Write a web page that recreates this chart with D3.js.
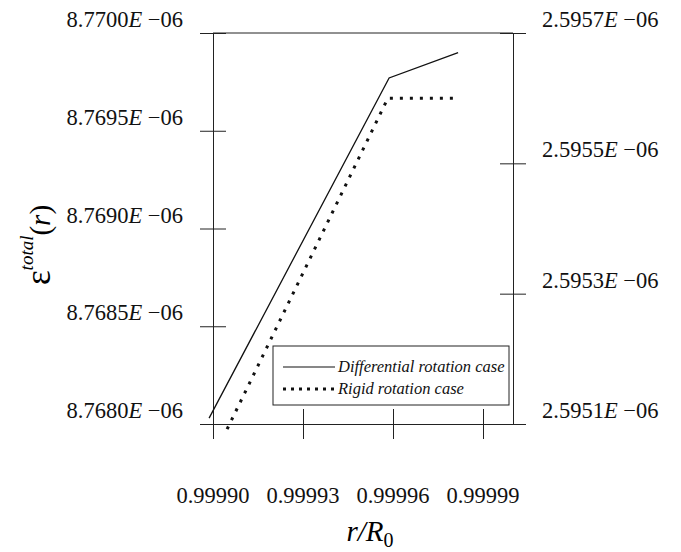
<!DOCTYPE html>
<meta charset="utf-8">
<style>
body { margin: 0; background: #fff; }
svg { font-family: "Liberation Serif", "Times New Roman", serif; }
.axis path { stroke: #222; stroke-width: 1; }
.axis line { stroke: #222; stroke-width: 1; }
.frame { stroke: #222; stroke-width: 1; }
.tick-label { font-size: 22.5px; fill: #111; }
.legend-text { font-size: 16.5px; font-style: italic; fill: #111; }
</style>
<body>
<script src="https://d3js.org/d3.v7.min.js"></script>
<script>
// values
var diffR = [0.9998987, 0.9999587, 0.9999817];
var diffE = [8.76803e-6, 8.76977e-6, 8.76990e-6];
var rigidR = [0.9999047, 0.9999583, 0.9999817];
var rigidE = [2.595092e-6, 2.595600e-6, 2.595600e-6];

var xTicks = [0.99990, 0.99993, 0.99996, 0.99999];
var leftTicks = [8.7680e-6, 8.7685e-6, 8.7690e-6, 8.7695e-6, 8.7700e-6];
var rightTicks = [2.5951e-6, 2.5953e-6, 2.5955e-6, 2.5957e-6];

var legendLabels = ["Differential rotation case", "Rigid rotation case"];

var width = 681, height = 552;
var plot = {left: 213, right: 513, top: 33, bottom: 424};

var svg = d3.select("body").append("svg")
  .attr("width", width)
  .attr("height", height);

var x = d3.scaleLinear().domain([0.99990, 1.00000]).range([plot.left, plot.right]);
var yL = d3.scaleLinear().domain([8.7680e-6, 8.7700e-6]).range([plot.bottom, plot.top]);
var yR = d3.scaleLinear().domain([2.5951e-6, 2.5957e-6]).range([plot.bottom, plot.top]);

// frame top line
svg.append("line")
  .attr("class", "frame")
  .attr("x1", plot.left).attr("x2", plot.right)
  .attr("y1", plot.top).attr("y2", plot.top);

// axes, ticks cross the axis line
var gx = svg.append("g")
  .attr("class", "axis")
  .attr("transform", "translate(0," + plot.bottom + ")")
  .call(d3.axisBottom(x).tickValues(xTicks).tickSizeOuter(0).tickFormat(""));
gx.selectAll(".tick line").attr("y1", -15).attr("y2", 15);

var gl = svg.append("g")
  .attr("class", "axis")
  .attr("transform", "translate(" + plot.left + ",0)")
  .call(d3.axisLeft(yL).tickValues(leftTicks).tickSizeOuter(0).tickFormat(""));
gl.selectAll(".tick line").attr("x1", -13).attr("x2", 13);

var gr = svg.append("g")
  .attr("class", "axis")
  .attr("transform", "translate(" + plot.right + ",0)")
  .call(d3.axisRight(yR).tickValues(rightTicks).tickSizeOuter(0).tickFormat(""));
gr.selectAll(".tick line").attr("x1", -13).attr("x2", 13);

// tick labels like 8.7700E -06
function sciLabel(sel, v) {
  sel.append("tspan").text(d3.format(".4f")(v * 1e6));
  sel.append("tspan").attr("font-style", "italic").text("E");
  sel.append("tspan").text(" \u221206");
}

svg.selectAll(".left-label")
  .data(leftTicks).enter()
  .append("text")
  .attr("class", "tick-label")
  .attr("text-anchor", "end")
  .attr("x", plot.left - 30)
  .attr("y", function(d) { return yL(d) - 6; })
  .each(function(d) { sciLabel(d3.select(this), d); });

svg.selectAll(".right-label")
  .data(rightTicks).enter()
  .append("text")
  .attr("class", "tick-label")
  .attr("x", plot.right + 29)
  .attr("y", function(d) { return yR(d) - 6; })
  .each(function(d) { sciLabel(d3.select(this), d); });

svg.selectAll(".x-label")
  .data(xTicks).enter()
  .append("text")
  .attr("class", "tick-label")
  .attr("font-size", "23px")
  .attr("text-anchor", "middle")
  .attr("x", function(d) { return x(d); })
  .attr("y", 503)
  .text(function(d) { return d3.format(".5f")(d); });

// axis titles
var xt = svg.append("text")
  .attr("x", 370).attr("y", 541)
  .attr("text-anchor", "middle")
  .attr("font-size", "29px")
  .attr("font-style", "italic");
xt.append("tspan").text("r/R");
xt.append("tspan").attr("font-size", "20px").attr("font-style", "normal").attr("dy", 6).text("0");

var yt = svg.append("text")
  .attr("transform", "translate(50,245) rotate(-90)")
  .attr("text-anchor", "middle")
  .attr("font-size", "29px");
yt.append("tspan").attr("font-size", "35px").text("\u03b5");
yt.append("tspan").attr("font-size", "19px").attr("font-style", "italic").attr("dy", -17).text("total");
yt.append("tspan").attr("dy", 17).text("(");
yt.append("tspan").attr("font-style", "italic").text("r");
yt.append("tspan").text(")");

// curves
var diffLine = d3.line()
  .x(function(d, i) { return x(diffR[i]); })
  .y(function(d) { return yL(d); });
var rigidLine = d3.line()
  .x(function(d, i) { return x(rigidR[i]); })
  .y(function(d) { return yR(d); });

svg.append("path")
  .attr("d", diffLine(diffE))
  .attr("fill", "none")
  .attr("stroke", "#111")
  .attr("stroke-width", 1.3);

svg.append("path")
  .attr("d", rigidLine(rigidE))
  .attr("fill", "none")
  .attr("stroke", "#111")
  .attr("stroke-width", 3)
  .attr("stroke-dasharray", "3,7");

// legend
var legend = svg.append("g").attr("transform", "translate(273,346)");
legend.append("rect")
  .attr("width", 236).attr("height", 59)
  .attr("fill", "#fff")
  .attr("stroke", "#222");
legend.selectAll(".legend-line")
  .data(legendLabels).enter()
  .append("line")
  .attr("x1", 10).attr("x2", 62)
  .attr("y1", function(d, i) { return 21 + i * 22; })
  .attr("y2", function(d, i) { return 21 + i * 22; })
  .attr("stroke", "#111")
  .attr("stroke-width", function(d, i) { return i ? 3 : 1.2; })
  .attr("stroke-dasharray", function(d, i) { return i ? "3,5" : null; });
legend.selectAll(".legend-text")
  .data(legendLabels).enter()
  .append("text")
  .attr("class", "legend-text")
  .attr("x", 65)
  .attr("y", function(d, i) { return 26 + i * 22; })
  .text(function(d) { return d; });
</script>
